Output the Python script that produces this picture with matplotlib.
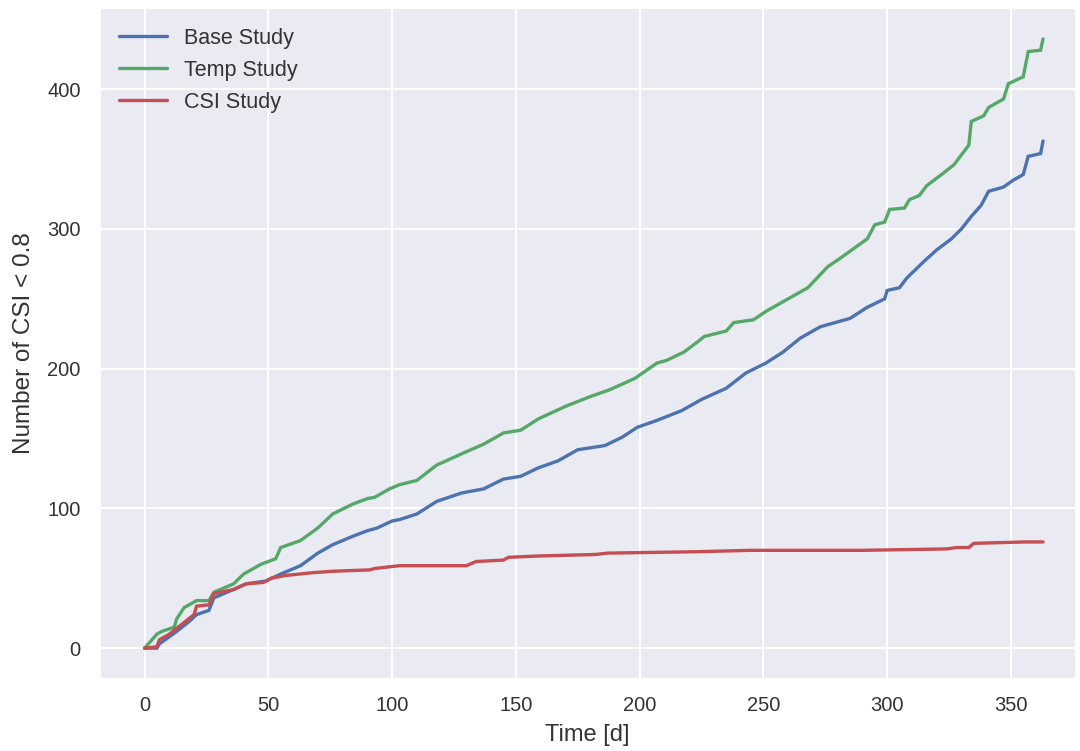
import matplotlib
matplotlib.use("Agg")
import matplotlib.pyplot as plt
import seaborn as sns

# ---- data ----
base_days = [0, 5, 6, 13, 18, 21, 26, 28, 36, 41, 49, 55, 63, 70, 76, 84, 90, 94, 100, 103, 110, 118, 128,
             137, 145, 152, 159, 167, 175, 186, 193, 199, 207, 217, 225, 235, 243, 251, 258, 265, 273, 285,
             292, 299, 300, 305, 308, 315, 320, 326, 330, 334, 338, 341, 347, 351, 355, 357, 362, 363]
base_vals = [0, 0, 3, 12, 19, 24, 27, 36, 42, 46, 48, 53, 59, 68, 74, 80, 84, 86, 91, 92, 96, 105, 111,
             114, 121, 123, 129, 134, 142, 145, 151, 158, 163, 170, 178, 186, 197, 204, 212, 222, 230, 236,
             244, 250, 256, 258, 265, 277, 285, 293, 300, 309, 317, 327, 330, 335, 339, 352, 354, 363]

temp_days = [0, 5, 7, 12, 13, 16, 21, 26, 28, 36, 40, 47, 53, 55, 63, 70, 76, 84, 90, 93, 99, 103, 110, 118,
             128, 137, 145, 152, 159, 170, 180, 188, 198, 207, 211, 218, 224, 226, 235, 238, 246, 251, 258,
             268, 276, 281, 292, 295, 299, 301, 307, 309, 313, 316, 322, 327, 330, 333, 334, 339, 341, 347,
             349, 355, 357, 362, 363]
temp_vals = [0, 10, 12, 15, 21, 29, 34, 34, 40, 46, 53, 60, 64, 72, 77, 86, 96, 103, 107, 108, 114, 117, 120,
             131, 139, 146, 154, 156, 164, 173, 180, 185, 193, 204, 206, 212, 220, 223, 227, 233, 235, 241,
             248, 258, 273, 279, 293, 303, 305, 314, 315, 321, 324, 331, 339, 346, 353, 360, 377, 381, 387,
             393, 404, 409, 427, 428, 436]

csi_days = [0, 5, 6, 10, 15, 20, 21, 26, 28, 36, 41, 48, 51, 57, 68, 76, 91, 93, 103, 130, 134, 145, 147,
            160, 182, 187, 223, 245, 290, 324, 328, 333, 335, 356, 363]
csi_vals = [0, 1, 6, 10, 17, 24, 30, 31, 39, 42, 46, 47, 50, 52, 54, 55, 56, 57, 59, 59, 62, 63, 65,
            66, 67, 68, 69, 70, 70, 71, 72, 72, 75, 76, 76]

series_labels = ["Base Study", "Temp Study", "CSI Study"]
x_label = "Time [d]"
y_label = "Number of CSI < 0.8"

# ---- style ----
sns.set_style("darkgrid")
plt.rcParams['font.family'] = ['Liberation Sans', 'DejaVu Sans']
colors = ["#4C72B0", "#55A868", "#C44E52"]

fig = plt.figure(figsize=(10.8, 7.51), dpi=100)
ax = fig.add_axes([0.0926, 0.097, 0.903, 0.892])

for d, v, lab, c in zip([base_days, temp_days, csi_days], [base_vals, temp_vals, csi_vals],
                        series_labels, colors):
    ax.plot(d, v, color=c, lw=2.4, label=lab, solid_joinstyle="miter")

ax.set_xlim(-18, 376)
ax.set_ylim(-21.5, 458)
ax.set_xticks([0, 50, 100, 150, 200, 250, 300, 350])
ax.set_yticks([0, 100, 200, 300, 400])
ax.tick_params(axis="x", labelsize=14.5, colors="#333333", length=0, pad=13)
ax.tick_params(axis="y", labelsize=14.5, colors="#333333", length=0, pad=14)
ax.set_xlabel(x_label, fontsize=17, color="#333333", labelpad=6)
ax.set_ylabel(y_label, fontsize=17.5, color="#333333", labelpad=9)
ax.grid(True, color="white", lw=1.4)
leg = ax.legend(loc="upper left", frameon=False, fontsize=15.5, handlelength=2.2,
                borderaxespad=0.5, labelspacing=0.52)
for t in leg.get_texts():
    t.set_color("#333333")

fig.savefig("out.png", dpi=100)
